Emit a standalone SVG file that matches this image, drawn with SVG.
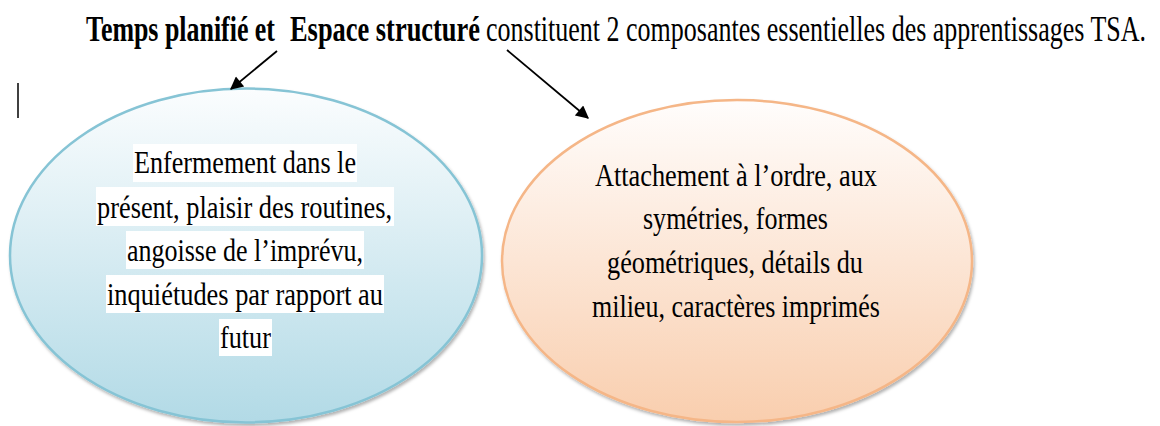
<svg xmlns="http://www.w3.org/2000/svg" width="1160" height="426" viewBox="0 0 1160 426">
  <defs>
    <style>
      text { font-family: 'Liberation Serif', 'DejaVu Serif', 'Times New Roman', serif; fill: #000; }
      .title { font-size: 36px; }
      .b { font-weight: bold; }
      .lbl { font-size: 31px; }
      .bg { fill: #ffffff; }
      .conn { stroke: #000; stroke-width: 1.8; fill: none; marker-end: url(#ah); }
    </style>
    <marker id="ah" viewBox="0 0 10 10" refX="9" refY="5" markerWidth="15" markerHeight="13" markerUnits="userSpaceOnUse" orient="auto">
      <path d="M0,0 L10,5 L0,10 z" fill="#000"/>
    </marker>
    <linearGradient id="gBlue" x1="0" y1="0" x2="0" y2="1">
      <stop offset="0" stop-color="#fbfdfe"/>
      <stop offset="1" stop-color="#b2dae6"/>
    </linearGradient>
    <linearGradient id="gPeach" x1="0" y1="0" x2="0" y2="1">
      <stop offset="0" stop-color="#fffdfc"/>
      <stop offset="1" stop-color="#f9ceae"/>
    </linearGradient>
    <filter id="sh" x="-10%" y="-10%" width="120%" height="125%">
      <feDropShadow dx="1.5" dy="2.5" stdDeviation="1.5" flood-color="#000" flood-opacity="0.3"/>
    </filter>
  </defs>
  <rect width="1160" height="426" fill="#ffffff"/>

  <g id="title">
    <g transform="scale(0.72,1)">
      <text class="title b" x="119.44" y="41" textLength="262.5" lengthAdjust="spacingAndGlyphs">Temps planifié et</text>
      <text class="title b" x="402.78" y="41" textLength="263.89" lengthAdjust="spacingAndGlyphs">Espace structuré</text>
      <text class="title" x="675" y="41" textLength="916.67" lengthAdjust="spacingAndGlyphs">constituent 2 composantes essentielles des apprentissages TSA.</text>
    </g>
  </g>

  <g id="cursor">
    <line x1="18" y1="83" x2="18" y2="118" stroke="#000" stroke-width="1.5"/>
  </g>

  <g id="node-temps">
    <ellipse cx="246" cy="255.5" rx="236" ry="167" fill="url(#gBlue)" stroke="#86c4d5" stroke-width="2.5" filter="url(#sh)"/>
    <rect class="bg" x="133" y="144" width="224" height="38"/>
    <rect class="bg" x="96" y="187" width="298" height="39"/>
    <rect class="bg" x="126" y="231" width="238" height="38"/>
    <rect class="bg" x="106" y="275" width="278" height="38"/>
    <rect class="bg" x="219" y="319" width="53" height="37"/>
    <g transform="scale(0.84,1)">
      <text class="lbl" x="159.52" y="173" textLength="264.29" lengthAdjust="spacingAndGlyphs">Enfermement dans le</text>
      <text class="lbl" x="115.48" y="218" textLength="351.19" lengthAdjust="spacingAndGlyphs">présent, plaisir des routines,</text>
      <text class="lbl" x="151.19" y="261" textLength="280.95" lengthAdjust="spacingAndGlyphs">angoisse de l’imprévu,</text>
      <text class="lbl" x="127.38" y="305" textLength="328.57" lengthAdjust="spacingAndGlyphs">inquiétudes par rapport au</text>
      <text class="lbl" x="261.9" y="348" textLength="60.71" lengthAdjust="spacingAndGlyphs">futur</text>
    </g>
  </g>

  <g id="node-espace">
    <ellipse cx="737" cy="261" rx="235" ry="161" fill="url(#gPeach)" stroke="#f5b687" stroke-width="2.5" filter="url(#sh)"/>
    <g transform="scale(0.84,1)">
      <text class="lbl" x="708.33" y="186" textLength="335.71" lengthAdjust="spacingAndGlyphs">Attachement à l’ordre, aux</text>
      <text class="lbl" x="765.48" y="229" textLength="220.24" lengthAdjust="spacingAndGlyphs">symétries, formes</text>
      <text class="lbl" x="722.62" y="273" textLength="304.76" lengthAdjust="spacingAndGlyphs">géométriques, détails du</text>
      <text class="lbl" x="704.76" y="317" textLength="342.86" lengthAdjust="spacingAndGlyphs">milieu, caractères imprimés</text>
    </g>
  </g>

  <g id="connectors">
    <line class="conn" x1="277" y1="51" x2="231" y2="89"/>
    <line class="conn" x1="507" y1="50" x2="588" y2="118"/>
  </g>
</svg>
